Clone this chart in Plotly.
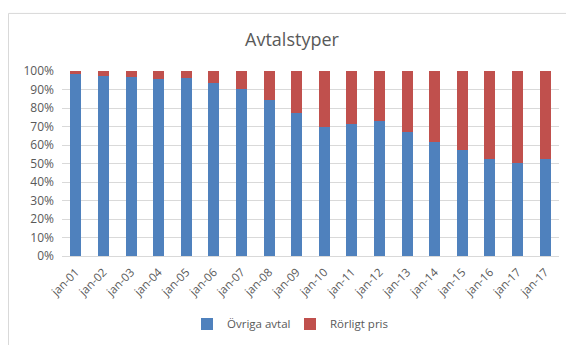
import plotly.graph_objects as go

# Categories (the last label repeats in the source series)
months = ["jan-01", "jan-02", "jan-03", "jan-04", "jan-05", "jan-06",
          "jan-07", "jan-08", "jan-09", "jan-10", "jan-11", "jan-12",
          "jan-13", "jan-14", "jan-15", "jan-16", "jan-17", "jan-17"]

# Share of contracts, percent
ovriga_avtal = [98.4, 97.3, 96.8, 95.9, 96.0, 93.5, 90.1, 84.1, 77.3,
                69.9, 71.3, 72.9, 67.3, 61.6, 57.5, 52.7, 50.4, 52.2]
rorligt_pris = [1.6, 2.7, 3.2, 4.1, 4.0, 6.5, 9.9, 15.9, 22.7,
                30.1, 28.7, 27.1, 32.7, 38.4, 42.5, 47.3, 49.6, 47.8]

y_ticks = [0, 10, 20, 30, 40, 50, 60, 70, 80, 90, 100]

positions = list(range(len(months)))

BLUE = "#4F81BD"
RED = "#C0504D"
TEXT = "#595959"
GRID = "#D9D9D9"
FONT = "Open Sans, Liberation Sans, sans-serif"

fig = go.Figure()
fig.add_trace(go.Bar(x=positions, y=ovriga_avtal, name="Övriga avtal",
                     marker=dict(color=BLUE, line=dict(width=0))))
fig.add_trace(go.Bar(x=positions, y=rorligt_pris, name="Rörligt pris",
                     marker=dict(color=RED, line=dict(width=0))))

W, H = 566, 345
L, R, T, B = 62, 7, 71, 86
pw, ph = W - L - R, H - T - B

def px_x(x):
    return (x - L) / pw

def px_y(y):
    return (H - B - y) / ph

fig.update_layout(
    width=W, height=H,
    barmode="stack", bargap=0.6,
    margin=dict(l=L, r=R, t=T, b=B),
    paper_bgcolor="white", plot_bgcolor="white",
    font=dict(family=FONT, color=TEXT, size=12),
    title=dict(text="Avtalstyper", x=292 / W, xanchor="center",
               y=1 - 40 / H, yanchor="middle",
               font=dict(size=18, color=TEXT, family=FONT)),
    showlegend=True,
    legend=dict(orientation="h", x=px_x(290), xanchor="center",
                y=px_y(328), yanchor="middle",
                font=dict(size=11.5, color=TEXT),
                itemwidth=30, traceorder="normal",
                entrywidth=58, entrywidthmode="pixels"),
    xaxis=dict(tickmode="array", tickvals=positions, ticktext=months,
               tickangle=-45, range=[-0.5, len(months) - 0.5],
               showgrid=False, showline=True, linecolor=GRID, linewidth=1,
               ticks="", ticklabelstandoff=4,
               tickfont=dict(size=11.5, color=TEXT)),
    yaxis=dict(range=[0, 100], tickmode="array", tickvals=y_ticks,
               ticktext=[f"{v}%" for v in y_ticks],
               showgrid=True, gridcolor=GRID, gridwidth=1,
               zeroline=False, showline=False, ticks="",
               ticklabelstandoff=7,
               tickfont=dict(size=12, color=TEXT)),
    shapes=[dict(type="rect", xref="paper", yref="paper",
                 x0=px_x(8.5), x1=px_x(575), y0=px_y(360), y1=px_y(12.5),
                 line=dict(color=GRID, width=1), fillcolor="rgba(0,0,0,0)",
                 layer="below")],
)

fig.write_html("out.html")
